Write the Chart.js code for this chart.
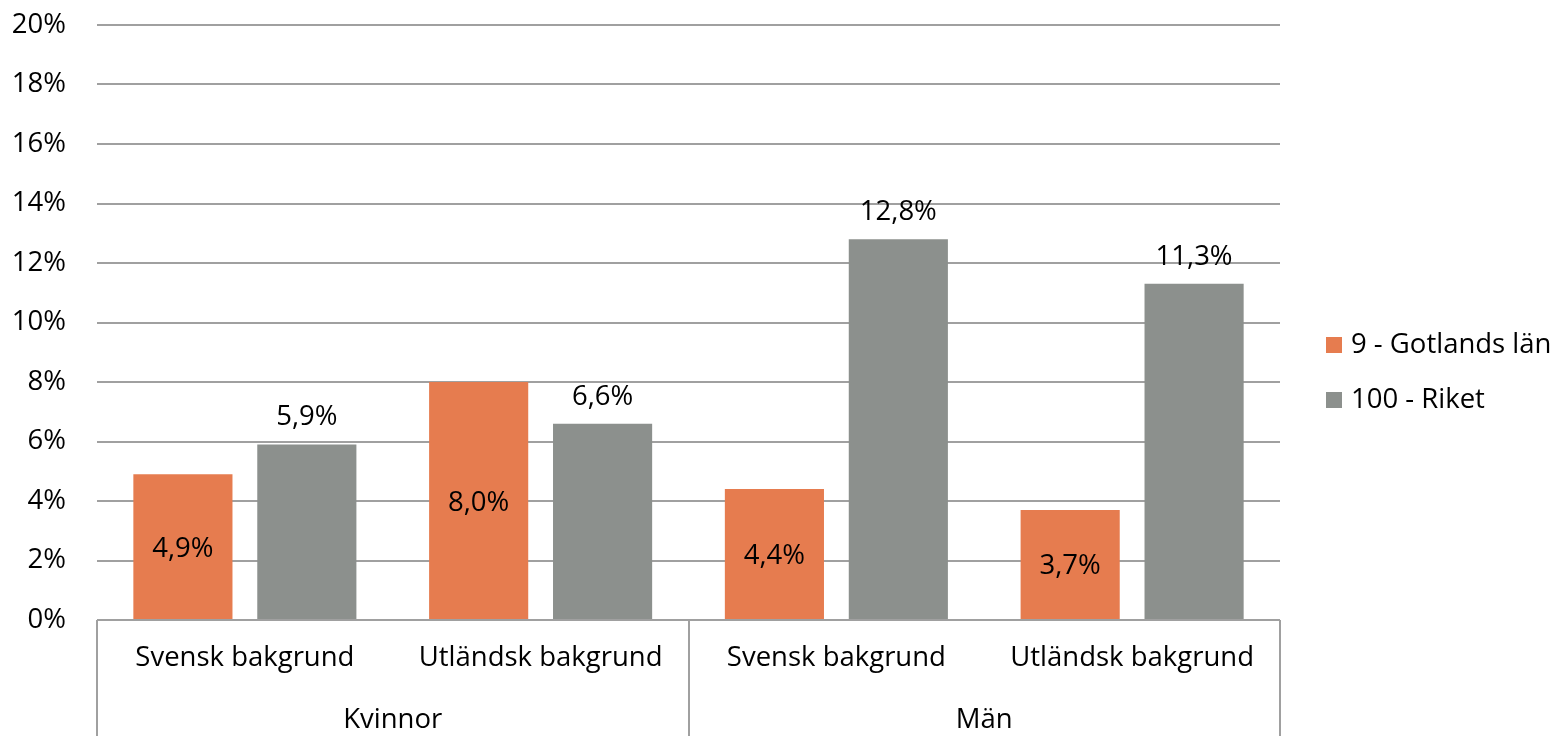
<!DOCTYPE html>
<html>
<head>
<meta charset="utf-8">
<script src="https://cdn.jsdelivr.net/npm/chart.js@4.4.0/dist/chart.umd.min.js"></script>
<style>
  html, body { margin: 0; padding: 0; background: #fff; }
  #wrap { width: 1560px; height: 736px; }
</style>
</head>
<body>
<div id="wrap"><canvas id="chart" width="1560" height="736"></canvas></div>
<script>
// Kategorier och grupper (två nivåer på x-axeln)
const kategorier = ['Svensk bakgrund', 'Utländsk bakgrund', 'Svensk bakgrund', 'Utländsk bakgrund'];
const grupper = ['Kvinnor', 'Män'];
const gotland = [4.9, 8.0, 4.4, 3.7];
const riket = [5.9, 6.6, 12.8, 11.3];
const serieNamn = ['9 - Gotlands län', '100 - Riket'];
const yTicks = [0, 2, 4, 6, 8, 10, 12, 14, 16, 18, 20];

const FONT = '"Open Sans", Lato, sans-serif';
const FS = 27.5;
const ORANGE = '#E67C4F';
const GRA = '#8C908D';
const LINJE = '#A0A0A0';

function fmt(v) {
    return v.toFixed(1).replace('.', ',') + '%';
}

// Etiketter på staplarna, tvånivåaxel och förklaring
const ritaExtra = {
    id: 'ritaExtra',
    afterDatasetsDraw(chart) {
        const ctx = chart.ctx;
        const area = chart.chartArea;
        const x = chart.scales.x;
        ctx.save();
        ctx.font = FS + 'px ' + FONT;
        ctx.fillStyle = '#000';
        ctx.textAlign = 'center';
        ctx.textBaseline = 'alphabetic';

        // Gotland: mitt i stapeln
        chart.getDatasetMeta(0).data.forEach((bar, i) => {
            const mid = (bar.y + bar.base) / 2;
            ctx.fillText(fmt(gotland[i]), bar.x, mid + 10);
        });
        // Riket: ovanför stapeln
        chart.getDatasetMeta(1).data.forEach((bar, i) => {
            ctx.fillText(fmt(riket[i]), bar.x, bar.y - 19);
        });

        // Kategorietiketter
        ctx.textBaseline = 'middle';
        kategorier.forEach((k, i) => {
            ctx.fillText(k, x.getPixelForValue(i), 658);
        });
        // Grupper
        grupper.forEach((g, j) => {
            const c = (x.getPixelForValue(j * 2) + x.getPixelForValue(j * 2 + 1)) / 2;
            ctx.fillText(g, c, 720);
        });

        // Avgränsningslinjer under axeln
        ctx.strokeStyle = LINJE;
        ctx.lineWidth = 2;
        const kanter = [area.left, (x.getPixelForValue(1) + x.getPixelForValue(2)) / 2, area.right];
        kanter.forEach(px => {
            ctx.beginPath();
            ctx.moveTo(Math.round(px), area.bottom);
            ctx.lineTo(Math.round(px), chart.height);
            ctx.stroke();
        });

        // Förklaring
        const fargar = [ORANGE, GRA];
        ctx.textAlign = 'left';
        serieNamn.forEach((n, i) => {
            const cy = 345 + i * 55;
            ctx.fillStyle = fargar[i];
            ctx.fillRect(1326, cy - 8, 16, 16);
            ctx.fillStyle = '#000';
            ctx.fillText(n, 1351, cy);
        });
        ctx.restore();
    }
};

new Chart(document.getElementById('chart').getContext('2d'), {
    type: 'bar',
    data: {
        labels: kategorier,
        datasets: [
            { label: serieNamn[0], data: gotland, backgroundColor: ORANGE },
            { label: serieNamn[1], data: riket, backgroundColor: GRA }
        ]
    },
    options: {
        responsive: false,
        animation: false,
        categoryPercentage: 0.838,
        barPercentage: 0.8,
        layout: { padding: { top: 25, right: 280, left: 0, bottom: 0 } },
        plugins: { legend: { display: false }, tooltip: { enabled: false } },
        scales: {
            x: {
                grid: { display: false },
                border: { display: false },
                ticks: { display: false },
                afterFit(scale) { scale.height = 116; }
            },
            y: {
                min: 0,
                max: 20,
                afterBuildTicks(scale) { scale.ticks = yTicks.map(v => ({ value: v })); },
                ticks: {
                    padding: 31,
                    color: '#000',
                    font: { family: FONT, size: FS },
                    callback: v => v + '%'
                },
                grid: { color: LINJE, lineWidth: 2, drawTicks: false },
                border: { display: false },
                afterFit(scale) {
                    scale.width = 97;
                    scale.paddingTop = 0;
                    scale.paddingBottom = 0;
                }
            }
        }
    },
    plugins: [ritaExtra]
});
</script>
</body>
</html>
